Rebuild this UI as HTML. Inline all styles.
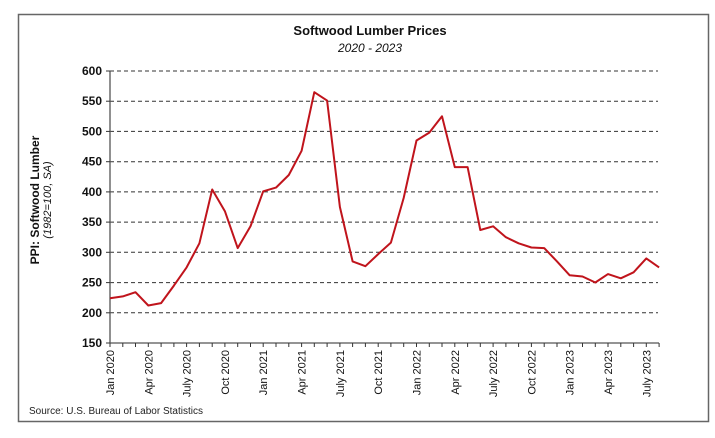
<!DOCTYPE html>
<html><head><meta charset="utf-8"><style>
html,body{margin:0;padding:0;background:#fff;}
svg{display:block;font-family:"Liberation Sans",sans-serif;}
</style></head><body>
<svg width="715" height="438" viewBox="0 0 715 438" xmlns="http://www.w3.org/2000/svg">
<rect x="0" y="0" width="715" height="438" fill="#fff"/>
<rect x="18.5" y="14.5" width="690" height="407" fill="#fff" stroke="#666" stroke-width="1.5"/>
<text x="370" y="35" text-anchor="middle" font-size="13" font-weight="bold" fill="#111">Softwood Lumber Prices</text>
<text x="370" y="52" text-anchor="middle" font-size="12" font-style="italic" fill="#111">2020 - 2023</text>
<g stroke="#333" stroke-width="1" stroke-dasharray="4,3">
<line x1="110" y1="71" x2="658" y2="71"/>
<line x1="110" y1="101.2" x2="658" y2="101.2"/>
<line x1="110" y1="131.4" x2="658" y2="131.4"/>
<line x1="110" y1="161.7" x2="658" y2="161.7"/>
<line x1="110" y1="191.9" x2="658" y2="191.9"/>
<line x1="110" y1="222.1" x2="658" y2="222.1"/>
<line x1="110" y1="252.3" x2="658" y2="252.3"/>
<line x1="110" y1="282.6" x2="658" y2="282.6"/>
<line x1="110" y1="312.8" x2="658" y2="312.8"/>
</g>
<g stroke="#555" stroke-width="1.3">
<line x1="110" y1="71" x2="110" y2="343"/>
<line x1="110" y1="343" x2="659" y2="343"/>
</g>
<g stroke="#333" stroke-width="1">
<line x1="106" y1="71" x2="110" y2="71"/><line x1="106" y1="101.2" x2="110" y2="101.2"/><line x1="106" y1="131.4" x2="110" y2="131.4"/><line x1="106" y1="161.7" x2="110" y2="161.7"/><line x1="106" y1="191.9" x2="110" y2="191.9"/><line x1="106" y1="222.1" x2="110" y2="222.1"/><line x1="106" y1="252.3" x2="110" y2="252.3"/><line x1="106" y1="282.6" x2="110" y2="282.6"/><line x1="106" y1="312.8" x2="110" y2="312.8"/><line x1="106" y1="343" x2="110" y2="343"/>
</g>
<g font-size="12" font-weight="bold" fill="#111" text-anchor="end">
<text x="102" y="75">600</text><text x="102" y="105.2">550</text><text x="102" y="135.4">500</text><text x="102" y="165.7">450</text><text x="102" y="195.9">400</text><text x="102" y="226.1">350</text><text x="102" y="256.3">300</text><text x="102" y="286.6">250</text><text x="102" y="316.8">200</text><text x="102" y="347">150</text>
</g>
<g id="ticks" stroke="#333" stroke-width="1"></g>
<g stroke="#333" stroke-width="1">
<line x1="110" y1="343" x2="110" y2="347"/><line x1="122.8" y1="343" x2="122.8" y2="347"/><line x1="135.5" y1="343" x2="135.5" y2="347"/><line x1="148.3" y1="343" x2="148.3" y2="347"/><line x1="161.1" y1="343" x2="161.1" y2="347"/><line x1="173.9" y1="343" x2="173.9" y2="347"/><line x1="186.6" y1="343" x2="186.6" y2="347"/><line x1="199.4" y1="343" x2="199.4" y2="347"/><line x1="212.2" y1="343" x2="212.2" y2="347"/><line x1="224.9" y1="343" x2="224.9" y2="347"/><line x1="237.7" y1="343" x2="237.7" y2="347"/><line x1="250.5" y1="343" x2="250.5" y2="347"/><line x1="263.2" y1="343" x2="263.2" y2="347"/><line x1="276" y1="343" x2="276" y2="347"/><line x1="288.8" y1="343" x2="288.8" y2="347"/><line x1="301.6" y1="343" x2="301.6" y2="347"/><line x1="314.3" y1="343" x2="314.3" y2="347"/><line x1="327.1" y1="343" x2="327.1" y2="347"/><line x1="339.9" y1="343" x2="339.9" y2="347"/><line x1="352.6" y1="343" x2="352.6" y2="347"/><line x1="365.4" y1="343" x2="365.4" y2="347"/><line x1="378.2" y1="343" x2="378.2" y2="347"/><line x1="390.9" y1="343" x2="390.9" y2="347"/><line x1="403.7" y1="343" x2="403.7" y2="347"/><line x1="416.5" y1="343" x2="416.5" y2="347"/><line x1="429.3" y1="343" x2="429.3" y2="347"/><line x1="442" y1="343" x2="442" y2="347"/><line x1="454.8" y1="343" x2="454.8" y2="347"/><line x1="467.6" y1="343" x2="467.6" y2="347"/><line x1="480.3" y1="343" x2="480.3" y2="347"/><line x1="493.1" y1="343" x2="493.1" y2="347"/><line x1="505.9" y1="343" x2="505.9" y2="347"/><line x1="518.6" y1="343" x2="518.6" y2="347"/><line x1="531.4" y1="343" x2="531.4" y2="347"/><line x1="544.2" y1="343" x2="544.2" y2="347"/><line x1="557" y1="343" x2="557" y2="347"/><line x1="569.7" y1="343" x2="569.7" y2="347"/><line x1="582.5" y1="343" x2="582.5" y2="347"/><line x1="595.3" y1="343" x2="595.3" y2="347"/><line x1="608" y1="343" x2="608" y2="347"/><line x1="620.8" y1="343" x2="620.8" y2="347"/><line x1="633.6" y1="343" x2="633.6" y2="347"/><line x1="646.3" y1="343" x2="646.3" y2="347"/><line x1="659.1" y1="343" x2="659.1" y2="347"/>
</g>
<g font-size="11" fill="#111" text-anchor="end">
<text transform="translate(114,350) rotate(-90)">Jan 2020</text>
<text transform="translate(152.3,350) rotate(-90)">Apr 2020</text>
<text transform="translate(190.6,350) rotate(-90)">July 2020</text>
<text transform="translate(228.9,350) rotate(-90)">Oct 2020</text>
<text transform="translate(267.2,350) rotate(-90)">Jan 2021</text>
<text transform="translate(305.6,350) rotate(-90)">Apr 2021</text>
<text transform="translate(343.9,350) rotate(-90)">July 2021</text>
<text transform="translate(382.2,350) rotate(-90)">Oct 2021</text>
<text transform="translate(420.5,350) rotate(-90)">Jan 2022</text>
<text transform="translate(458.8,350) rotate(-90)">Apr 2022</text>
<text transform="translate(497.1,350) rotate(-90)">July 2022</text>
<text transform="translate(535.4,350) rotate(-90)">Oct 2022</text>
<text transform="translate(573.7,350) rotate(-90)">Jan 2023</text>
<text transform="translate(612,350) rotate(-90)">Apr 2023</text>
<text transform="translate(650.3,350) rotate(-90)">July 2023</text>
</g>
<text transform="translate(39,200) rotate(-90)" text-anchor="middle" font-size="12" font-weight="bold" fill="#111">PPI: Softwood Lumber</text>
<text transform="translate(51,200) rotate(-90)" text-anchor="middle" font-size="11" font-style="italic" fill="#111">(1982=100, SA)</text>
<polyline fill="none" stroke="#c0141c" stroke-width="2" stroke-linejoin="round" points="110,298.3 122.8,296.4 135.5,292.2 148.3,305.5 161.1,303.1 173.9,285.6 186.6,267.4 199.4,243.3 212.2,189.5 224.9,211.2 237.7,248.1 250.5,226.3 263.2,191.3 276,187.6 288.8,175 301.6,150.8 314.3,92.2 327.1,100.6 339.9,207 352.6,261.4 365.4,266.2 378.2,254.1 390.9,242.6 403.7,197.9 416.5,140.5 429.3,132.6 442,116.3 454.8,167.1 467.6,167.1 480.3,230 493.1,226.3 505.9,237.2 518.6,243.3 531.4,247.5 544.2,248.1 557,261.4 569.7,275.3 582.5,276.5 595.3,282.5 608,274.1 620.8,278.3 633.6,272.3 646.3,258.4 659.1,267.4"/>
<text x="29" y="414" font-size="10" fill="#222">Source: U.S. Bureau of Labor Statistics</text>
</svg>
</body></html>
